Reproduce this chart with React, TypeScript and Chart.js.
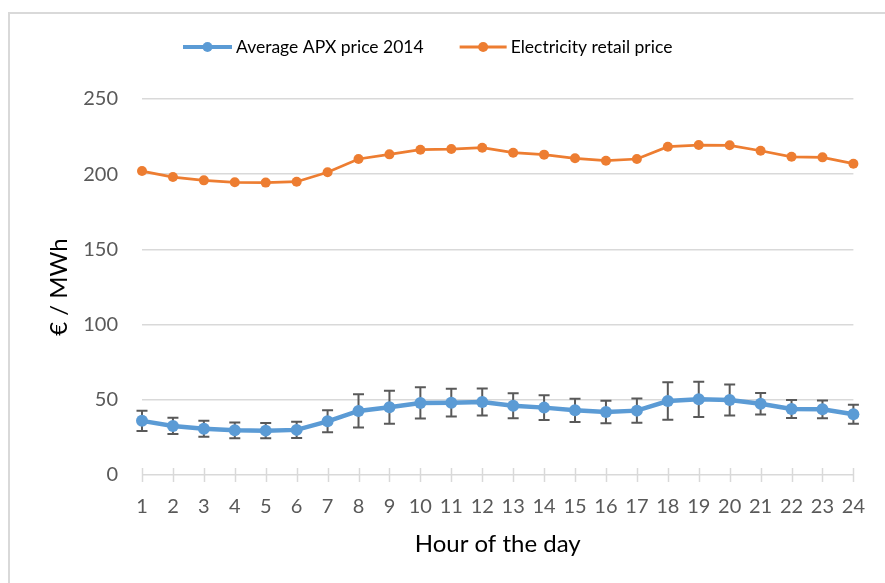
import React, { useEffect, useRef } from "react";
import { Chart, registerables } from "chart.js";

Chart.register(...registerables);

const hours = ["1","2","3","4","5","6","7","8","9","10","11","12","13","14","15","16","17","18","19","20","21","22","23","24"];
const apxPrice = [36, 32.6, 30.8, 29.7, 29.5, 30, 35.7, 42.6, 45, 47.9, 48.1, 48.5, 46, 44.8, 43, 41.9, 42.8, 49.2, 50.3, 49.9, 47.4, 43.9, 43.7, 40.4];
const apxError = [6.8, 5.4, 5.3, 5.2, 5.1, 5.4, 7.3, 11.1, 11, 10.4, 9.2, 9, 8.3, 8.2, 7.7, 7.5, 8, 12.4, 11.7, 10.3, 7.1, 6, 5.9, 6.3];
const retailPrice = [202.1, 198.1, 195.9, 194.6, 194.4, 195, 201.3, 210.1, 213.2, 216.3, 216.7, 217.6, 214.3, 213, 210.6, 209, 210.1, 218.3, 219.4, 219.2, 215.6, 211.6, 211.2, 207];
const yMin = 0;
const yMax = 250;
const yStep = 50;
const seriesLabels = ["Average APX price 2014", "Electricity retail price"];
const xTitle = "Hour of the day";
const yTitle = "€ / MWh";

const BLUE = "#5B9BD5";
const ORANGE = "#ED7D31";
const GRID = "#d9d9d9";
const FONT = "Lato, 'Open Sans', sans-serif";

const framePlugin = {
  id: "frame",
  beforeDraw(chart: any) {
    const ctx = chart.ctx;
    ctx.save();
    ctx.fillStyle = "#ffffff";
    ctx.fillRect(0, 0, chart.width, chart.height);
    ctx.strokeStyle = GRID;
    ctx.lineWidth = 2;
    ctx.strokeRect(9, 13, chart.width + 20, chart.height + 20);
    ctx.restore();
  },
};

const axisTicksPlugin = {
  id: "axisTicks",
  beforeDatasetsDraw(chart: any) {
    const ctx = chart.ctx;
    const xs = chart.scales.x;
    const y0 = chart.scales.y.getPixelForValue(0);
    ctx.save();
    ctx.strokeStyle = GRID;
    ctx.lineWidth = 1.5;
    xs.ticks.forEach((_t: any, i: number) => {
      const x = Math.round(xs.getPixelForTick(i)) + 0.5;
      ctx.beginPath();
      ctx.moveTo(x, y0 - 7);
      ctx.lineTo(x, y0 + 7);
      ctx.stroke();
    });
    ctx.restore();
  },
};

const errorBarPlugin = {
  id: "errorBars",
  beforeDatasetsDraw(chart: any) {
    const ctx = chart.ctx;
    const ys = chart.scales.y;
    const meta = chart.getDatasetMeta(0);
    ctx.save();
    ctx.strokeStyle = "#595959";
    ctx.lineWidth = 2;
    meta.data.forEach((pt: any, i: number) => {
      const x = pt.x;
      const top = ys.getPixelForValue(apxPrice[i] + apxError[i]);
      const bot = ys.getPixelForValue(apxPrice[i] - apxError[i]);
      const cap = 5.5;
      ctx.beginPath();
      ctx.moveTo(x, top);
      ctx.lineTo(x, bot);
      ctx.moveTo(x - cap, top);
      ctx.lineTo(x + cap, top);
      ctx.moveTo(x - cap, bot);
      ctx.lineTo(x + cap, bot);
      ctx.stroke();
    });
    ctx.restore();
  },
};

const legendPlugin = {
  id: "customLegend",
  afterDraw(chart: any) {
    const ctx = chart.ctx;
    const ds = chart.data.datasets;
    const y = 47;
    let x = 183;
    ctx.save();
    ctx.font = `17.5px ${FONT}`;
    ctx.textBaseline = "middle";
    ctx.textAlign = "left";
    ds.forEach((d: any, i: number) => {
      const lineW = i === 0 ? 49 : 47;
      ctx.strokeStyle = d.borderColor;
      ctx.lineWidth = i === 0 ? 4 : 3;
      ctx.beginPath();
      ctx.moveTo(x, y);
      ctx.lineTo(x + lineW, y);
      ctx.stroke();
      ctx.fillStyle = d.borderColor;
      ctx.beginPath();
      ctx.arc(x + lineW / 2, y, 5, 0, Math.PI * 2);
      ctx.fill();
      ctx.fillStyle = "#000000";
      const tx = x + lineW + 4;
      ctx.fillText(d.label, tx, y);
      const w = ctx.measureText(d.label).width;
      x = tx + w + 36;
    });
    ctx.restore();
  },
};

export default function App() {
  const ref = useRef<HTMLCanvasElement | null>(null);
  useEffect(() => {
    if (!ref.current) return;
    const chart = new Chart(ref.current, {
      type: "line",
      data: {
        labels: hours,
        datasets: [
          {
            label: seriesLabels[0],
            data: apxPrice,
            borderColor: BLUE,
            backgroundColor: BLUE,
            borderWidth: 4.5,
            pointRadius: 6,
            pointBorderWidth: 0,
            pointBackgroundColor: BLUE,
            tension: 0,
            clip: false as any,
          },
          {
            label: seriesLabels[1],
            data: retailPrice,
            borderColor: ORANGE,
            backgroundColor: ORANGE,
            borderWidth: 2.75,
            pointRadius: 5,
            pointBorderWidth: 0,
            pointBackgroundColor: ORANGE,
            tension: 0,
            clip: false as any,
          },
        ],
      },
      options: {
        animation: false,
        responsive: false,
        events: [],
        layout: { padding: { left: 0, top: 99, right: 28, bottom: 0 } },
        plugins: {
          legend: { display: false },
          tooltip: { enabled: false },
          title: { display: false },
        },
        scales: {
          x: {
            type: "category",
            offset: false,
            grid: { display: false, drawTicks: false },
            border: { display: false },
            ticks: {
              color: "#595959",
              font: { family: FONT, size: 20 },
              padding: 20,
              autoSkip: false,
              maxRotation: 0,
            },
            title: {
              display: true,
              text: xTitle,
              color: "#000000",
              font: { family: FONT, size: 24 },
              padding: { top: 0, bottom: 24 },
            },
            afterFit: (s: any) => {
              s.height = 108;
            },
          },
          y: {
            min: yMin,
            max: yMax,
            grid: { color: GRID, lineWidth: 1.5, drawTicks: false },
            border: { display: false },
            ticks: {
              stepSize: yStep,
              color: "#595959",
              font: { family: FONT, size: 20 },
              padding: 24,
            },
            title: {
              display: true,
              text: yTitle,
              color: "#000000",
              font: { family: FONT, size: 24 },
              padding: { top: 45, bottom: 0 },
            },
            afterFit: (s: any) => {
              s.width = 142;
            },
          },
        },
      },
      plugins: [framePlugin, axisTicksPlugin, errorBarPlugin, legendPlugin],
    });
    return () => chart.destroy();
  }, []);
  return (
    <canvas
      ref={ref}
      width={885}
      height={583}
      style={{ position: "fixed", left: 0, top: 0, width: 885, height: 583 }}
    />
  );
}
